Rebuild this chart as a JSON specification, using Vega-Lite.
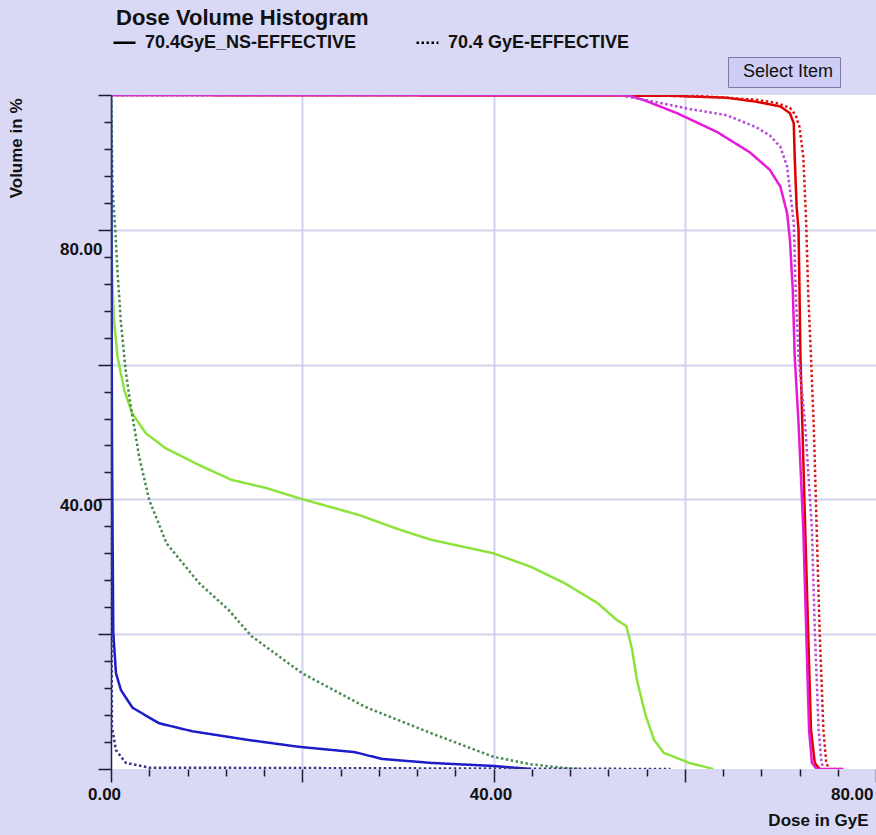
{
  "$schema": "https://vega.github.io/schema/vega-lite/v6.json",
  "width": 765,
  "height": 674,
  "autosize": {"type": "none"},
  "padding": {"left": 111, "top": 95, "right": 0, "bottom": 66},
  "background": "#d9d9f5",
  "config": {"font": "Liberation Sans", "view": {"fill": "white", "stroke": null}},
  "title": {"text": "Dose Volume Histogram", "anchor": "start", "frame": "group", "dx": 5, "dy": 25, "offset": 8, "fontSize": 22, "fontWeight": "bold", "color": "#111111", "baseline": "alphabetic"},
  "data": {"values": [
    {"series": "A-NS", "plan": "70.4GyE_NS-EFFECTIVE", "dose": 0, "volume": 100},
    {"series": "A-NS", "plan": "70.4GyE_NS-EFFECTIVE", "dose": 58, "volume": 99.9},
    {"series": "A-NS", "plan": "70.4GyE_NS-EFFECTIVE", "dose": 64.4, "volume": 99.6},
    {"series": "A-NS", "plan": "70.4GyE_NS-EFFECTIVE", "dose": 67.5, "volume": 99.0},
    {"series": "A-NS", "plan": "70.4GyE_NS-EFFECTIVE", "dose": 70, "volume": 98.3},
    {"series": "A-NS", "plan": "70.4GyE_NS-EFFECTIVE", "dose": 71, "volume": 97.3},
    {"series": "A-NS", "plan": "70.4GyE_NS-EFFECTIVE", "dose": 71.4, "volume": 95.8},
    {"series": "A-NS", "plan": "70.4GyE_NS-EFFECTIVE", "dose": 71.5, "volume": 90.8},
    {"series": "A-NS", "plan": "70.4GyE_NS-EFFECTIVE", "dose": 71.7, "volume": 83.4},
    {"series": "A-NS", "plan": "70.4GyE_NS-EFFECTIVE", "dose": 71.9, "volume": 80},
    {"series": "A-NS", "plan": "70.4GyE_NS-EFFECTIVE", "dose": 72.0, "volume": 71},
    {"series": "A-NS", "plan": "70.4GyE_NS-EFFECTIVE", "dose": 72.1, "volume": 61.2},
    {"series": "A-NS", "plan": "70.4GyE_NS-EFFECTIVE", "dose": 72.3, "volume": 51},
    {"series": "A-NS", "plan": "70.4GyE_NS-EFFECTIVE", "dose": 72.6, "volume": 35.5},
    {"series": "A-NS", "plan": "70.4GyE_NS-EFFECTIVE", "dose": 72.9, "volume": 20.6},
    {"series": "A-NS", "plan": "70.4GyE_NS-EFFECTIVE", "dose": 73.2, "volume": 5.8},
    {"series": "A-NS", "plan": "70.4GyE_NS-EFFECTIVE", "dose": 73.6, "volume": 0.9},
    {"series": "A-NS", "plan": "70.4GyE_NS-EFFECTIVE", "dose": 74.1, "volume": 0},

    {"series": "A-EFF", "plan": "70.4 GyE-EFFECTIVE", "dose": 0, "volume": 100},
    {"series": "A-EFF", "plan": "70.4 GyE-EFFECTIVE", "dose": 56, "volume": 100},
    {"series": "A-EFF", "plan": "70.4 GyE-EFFECTIVE", "dose": 62, "volume": 99.8},
    {"series": "A-EFF", "plan": "70.4 GyE-EFFECTIVE", "dose": 67.5, "volume": 99.3},
    {"series": "A-EFF", "plan": "70.4 GyE-EFFECTIVE", "dose": 69.6, "volume": 98.8},
    {"series": "A-EFF", "plan": "70.4 GyE-EFFECTIVE", "dose": 71, "volume": 98.1},
    {"series": "A-EFF", "plan": "70.4 GyE-EFFECTIVE", "dose": 71.6, "volume": 97},
    {"series": "A-EFF", "plan": "70.4 GyE-EFFECTIVE", "dose": 72, "volume": 95.3},
    {"series": "A-EFF", "plan": "70.4 GyE-EFFECTIVE", "dose": 72.4, "volume": 90.8},
    {"series": "A-EFF", "plan": "70.4 GyE-EFFECTIVE", "dose": 72.7, "volume": 81},
    {"series": "A-EFF", "plan": "70.4 GyE-EFFECTIVE", "dose": 72.9, "volume": 71},
    {"series": "A-EFF", "plan": "70.4 GyE-EFFECTIVE", "dose": 73.2, "volume": 61.2},
    {"series": "A-EFF", "plan": "70.4 GyE-EFFECTIVE", "dose": 73.5, "volume": 50.5},
    {"series": "A-EFF", "plan": "70.4 GyE-EFFECTIVE", "dose": 73.8, "volume": 35.5},
    {"series": "A-EFF", "plan": "70.4 GyE-EFFECTIVE", "dose": 74.1, "volume": 20.6},
    {"series": "A-EFF", "plan": "70.4 GyE-EFFECTIVE", "dose": 74.5, "volume": 5.8},
    {"series": "A-EFF", "plan": "70.4 GyE-EFFECTIVE", "dose": 74.8, "volume": 0.9},
    {"series": "A-EFF", "plan": "70.4 GyE-EFFECTIVE", "dose": 75.1, "volume": 0},
    {"series": "A-EFF", "plan": "70.4 GyE-EFFECTIVE", "dose": 76.6, "volume": 0},

    {"series": "B-NS", "plan": "70.4GyE_NS-EFFECTIVE", "dose": 0, "volume": 100},
    {"series": "B-NS", "plan": "70.4GyE_NS-EFFECTIVE", "dose": 54, "volume": 100},
    {"series": "B-NS", "plan": "70.4GyE_NS-EFFECTIVE", "dose": 55.8, "volume": 99.2},
    {"series": "B-NS", "plan": "70.4GyE_NS-EFFECTIVE", "dose": 59.2, "volume": 97.3},
    {"series": "B-NS", "plan": "70.4GyE_NS-EFFECTIVE", "dose": 63.4, "volume": 94.5},
    {"series": "B-NS", "plan": "70.4GyE_NS-EFFECTIVE", "dose": 66.8, "volume": 91.5},
    {"series": "B-NS", "plan": "70.4GyE_NS-EFFECTIVE", "dose": 68.9, "volume": 88.9},
    {"series": "B-NS", "plan": "70.4GyE_NS-EFFECTIVE", "dose": 70, "volume": 86.4},
    {"series": "B-NS", "plan": "70.4GyE_NS-EFFECTIVE", "dose": 70.7, "volume": 82.5},
    {"series": "B-NS", "plan": "70.4GyE_NS-EFFECTIVE", "dose": 71, "volume": 78.5},
    {"series": "B-NS", "plan": "70.4GyE_NS-EFFECTIVE", "dose": 71.3, "volume": 71},
    {"series": "B-NS", "plan": "70.4GyE_NS-EFFECTIVE", "dose": 71.5, "volume": 61.2},
    {"series": "B-NS", "plan": "70.4GyE_NS-EFFECTIVE", "dose": 71.9, "volume": 51.3},
    {"series": "B-NS", "plan": "70.4GyE_NS-EFFECTIVE", "dose": 72.4, "volume": 35.5},
    {"series": "B-NS", "plan": "70.4GyE_NS-EFFECTIVE", "dose": 72.7, "volume": 20.6},
    {"series": "B-NS", "plan": "70.4GyE_NS-EFFECTIVE", "dose": 73, "volume": 5.8},
    {"series": "B-NS", "plan": "70.4GyE_NS-EFFECTIVE", "dose": 73.3, "volume": 0.9},
    {"series": "B-NS", "plan": "70.4GyE_NS-EFFECTIVE", "dose": 73.8, "volume": 0},
    {"series": "B-NS", "plan": "70.4GyE_NS-EFFECTIVE", "dose": 76.6, "volume": 0},

    {"series": "B-EFF", "plan": "70.4 GyE-EFFECTIVE", "dose": 0, "volume": 100},
    {"series": "B-EFF", "plan": "70.4 GyE-EFFECTIVE", "dose": 53, "volume": 100},
    {"series": "B-EFF", "plan": "70.4 GyE-EFFECTIVE", "dose": 55.8, "volume": 99.3},
    {"series": "B-EFF", "plan": "70.4 GyE-EFFECTIVE", "dose": 60.2, "volume": 98},
    {"series": "B-EFF", "plan": "70.4 GyE-EFFECTIVE", "dose": 64.4, "volume": 97},
    {"series": "B-EFF", "plan": "70.4 GyE-EFFECTIVE", "dose": 67.5, "volume": 95.2},
    {"series": "B-EFF", "plan": "70.4 GyE-EFFECTIVE", "dose": 68.9, "volume": 94},
    {"series": "B-EFF", "plan": "70.4 GyE-EFFECTIVE", "dose": 70, "volume": 92.3},
    {"series": "B-EFF", "plan": "70.4 GyE-EFFECTIVE", "dose": 70.7, "volume": 89.4},
    {"series": "B-EFF", "plan": "70.4 GyE-EFFECTIVE", "dose": 71, "volume": 85.9},
    {"series": "B-EFF", "plan": "70.4 GyE-EFFECTIVE", "dose": 71.4, "volume": 81},
    {"series": "B-EFF", "plan": "70.4 GyE-EFFECTIVE", "dose": 71.6, "volume": 71},
    {"series": "B-EFF", "plan": "70.4 GyE-EFFECTIVE", "dose": 71.9, "volume": 61.2},
    {"series": "B-EFF", "plan": "70.4 GyE-EFFECTIVE", "dose": 72.6, "volume": 51},
    {"series": "B-EFF", "plan": "70.4 GyE-EFFECTIVE", "dose": 73.3, "volume": 35.5},
    {"series": "B-EFF", "plan": "70.4 GyE-EFFECTIVE", "dose": 73.6, "volume": 20.6},
    {"series": "B-EFF", "plan": "70.4 GyE-EFFECTIVE", "dose": 74, "volume": 5.8},
    {"series": "B-EFF", "plan": "70.4 GyE-EFFECTIVE", "dose": 74.3, "volume": 0.9},
    {"series": "B-EFF", "plan": "70.4 GyE-EFFECTIVE", "dose": 74.6, "volume": 0},

    {"series": "C-NS", "plan": "70.4GyE_NS-EFFECTIVE", "dose": 0, "volume": 100},
    {"series": "C-NS", "plan": "70.4GyE_NS-EFFECTIVE", "dose": 0.1, "volume": 75},
    {"series": "C-NS", "plan": "70.4GyE_NS-EFFECTIVE", "dose": 0.17, "volume": 71},
    {"series": "C-NS", "plan": "70.4GyE_NS-EFFECTIVE", "dose": 0.34, "volume": 66.2},
    {"series": "C-NS", "plan": "70.4GyE_NS-EFFECTIVE", "dose": 0.69, "volume": 61.1},
    {"series": "C-NS", "plan": "70.4GyE_NS-EFFECTIVE", "dose": 1.39, "volume": 56.2},
    {"series": "C-NS", "plan": "70.4GyE_NS-EFFECTIVE", "dose": 2.2, "volume": 52.8},
    {"series": "C-NS", "plan": "70.4GyE_NS-EFFECTIVE", "dose": 3.65, "volume": 49.8},
    {"series": "C-NS", "plan": "70.4GyE_NS-EFFECTIVE", "dose": 5.7, "volume": 47.6},
    {"series": "C-NS", "plan": "70.4GyE_NS-EFFECTIVE", "dose": 9.2, "volume": 45.1},
    {"series": "C-NS", "plan": "70.4GyE_NS-EFFECTIVE", "dose": 12.6, "volume": 42.9},
    {"series": "C-NS", "plan": "70.4GyE_NS-EFFECTIVE", "dose": 16.2, "volume": 41.7},
    {"series": "C-NS", "plan": "70.4GyE_NS-EFFECTIVE", "dose": 19.6, "volume": 40.2},
    {"series": "C-NS", "plan": "70.4GyE_NS-EFFECTIVE", "dose": 25.9, "volume": 37.7},
    {"series": "C-NS", "plan": "70.4GyE_NS-EFFECTIVE", "dose": 30, "volume": 35.6},
    {"series": "C-NS", "plan": "70.4GyE_NS-EFFECTIVE", "dose": 33.5, "volume": 34},
    {"series": "C-NS", "plan": "70.4GyE_NS-EFFECTIVE", "dose": 40, "volume": 32},
    {"series": "C-NS", "plan": "70.4GyE_NS-EFFECTIVE", "dose": 43.9, "volume": 30},
    {"series": "C-NS", "plan": "70.4GyE_NS-EFFECTIVE", "dose": 47.4, "volume": 27.6},
    {"series": "C-NS", "plan": "70.4GyE_NS-EFFECTIVE", "dose": 50.9, "volume": 24.6},
    {"series": "C-NS", "plan": "70.4GyE_NS-EFFECTIVE", "dose": 52.9, "volume": 22.1},
    {"series": "C-NS", "plan": "70.4GyE_NS-EFFECTIVE", "dose": 53.9, "volume": 21.2},
    {"series": "C-NS", "plan": "70.4GyE_NS-EFFECTIVE", "dose": 54.5, "volume": 17.7},
    {"series": "C-NS", "plan": "70.4GyE_NS-EFFECTIVE", "dose": 55, "volume": 13.2},
    {"series": "C-NS", "plan": "70.4GyE_NS-EFFECTIVE", "dose": 55.9, "volume": 8},
    {"series": "C-NS", "plan": "70.4GyE_NS-EFFECTIVE", "dose": 56.8, "volume": 4.3},
    {"series": "C-NS", "plan": "70.4GyE_NS-EFFECTIVE", "dose": 57.8, "volume": 2.4},
    {"series": "C-NS", "plan": "70.4GyE_NS-EFFECTIVE", "dose": 60.5, "volume": 0.9},
    {"series": "C-NS", "plan": "70.4GyE_NS-EFFECTIVE", "dose": 63, "volume": 0},

    {"series": "C-EFF", "plan": "70.4 GyE-EFFECTIVE", "dose": 0, "volume": 100},
    {"series": "C-EFF", "plan": "70.4 GyE-EFFECTIVE", "dose": 0.1, "volume": 92},
    {"series": "C-EFF", "plan": "70.4 GyE-EFFECTIVE", "dose": 0.17, "volume": 86},
    {"series": "C-EFF", "plan": "70.4 GyE-EFFECTIVE", "dose": 0.45, "volume": 80},
    {"series": "C-EFF", "plan": "70.4 GyE-EFFECTIVE", "dose": 0.69, "volume": 73.6},
    {"series": "C-EFF", "plan": "70.4 GyE-EFFECTIVE", "dose": 1.04, "volume": 66.2},
    {"series": "C-EFF", "plan": "70.4 GyE-EFFECTIVE", "dose": 1.56, "volume": 58.8},
    {"series": "C-EFF", "plan": "70.4 GyE-EFFECTIVE", "dose": 2.08, "volume": 53.7},
    {"series": "C-EFF", "plan": "70.4 GyE-EFFECTIVE", "dose": 2.95, "volume": 46.3},
    {"series": "C-EFF", "plan": "70.4 GyE-EFFECTIVE", "dose": 4, "volume": 39.9},
    {"series": "C-EFF", "plan": "70.4 GyE-EFFECTIVE", "dose": 5.8, "volume": 33.5},
    {"series": "C-EFF", "plan": "70.4 GyE-EFFECTIVE", "dose": 9.2, "volume": 27.6},
    {"series": "C-EFF", "plan": "70.4 GyE-EFFECTIVE", "dose": 12.3, "volume": 23.6},
    {"series": "C-EFF", "plan": "70.4 GyE-EFFECTIVE", "dose": 14.7, "volume": 19.7},
    {"series": "C-EFF", "plan": "70.4 GyE-EFFECTIVE", "dose": 20, "volume": 14.2},
    {"series": "C-EFF", "plan": "70.4 GyE-EFFECTIVE", "dose": 26.6, "volume": 9.2},
    {"series": "C-EFF", "plan": "70.4 GyE-EFFECTIVE", "dose": 33.5, "volume": 5.3},
    {"series": "C-EFF", "plan": "70.4 GyE-EFFECTIVE", "dose": 40, "volume": 1.8},
    {"series": "C-EFF", "plan": "70.4 GyE-EFFECTIVE", "dose": 43.9, "volume": 0.7},
    {"series": "C-EFF", "plan": "70.4 GyE-EFFECTIVE", "dose": 47.4, "volume": 0.15},
    {"series": "C-EFF", "plan": "70.4 GyE-EFFECTIVE", "dose": 49, "volume": 0},

    {"series": "D-NS", "plan": "70.4GyE_NS-EFFECTIVE", "dose": 0, "volume": 100},
    {"series": "D-NS", "plan": "70.4GyE_NS-EFFECTIVE", "dose": 0.05, "volume": 80},
    {"series": "D-NS", "plan": "70.4GyE_NS-EFFECTIVE", "dose": 0.1, "volume": 50},
    {"series": "D-NS", "plan": "70.4GyE_NS-EFFECTIVE", "dose": 0.17, "volume": 34},
    {"series": "D-NS", "plan": "70.4GyE_NS-EFFECTIVE", "dose": 0.24, "volume": 20.2},
    {"series": "D-NS", "plan": "70.4GyE_NS-EFFECTIVE", "dose": 0.52, "volume": 14.2},
    {"series": "D-NS", "plan": "70.4GyE_NS-EFFECTIVE", "dose": 1.04, "volume": 11.7},
    {"series": "D-NS", "plan": "70.4GyE_NS-EFFECTIVE", "dose": 2.25, "volume": 9.1},
    {"series": "D-NS", "plan": "70.4GyE_NS-EFFECTIVE", "dose": 5, "volume": 6.8},
    {"series": "D-NS", "plan": "70.4GyE_NS-EFFECTIVE", "dose": 8.5, "volume": 5.6},
    {"series": "D-NS", "plan": "70.4GyE_NS-EFFECTIVE", "dose": 14.4, "volume": 4.3},
    {"series": "D-NS", "plan": "70.4GyE_NS-EFFECTIVE", "dose": 19.6, "volume": 3.3},
    {"series": "D-NS", "plan": "70.4GyE_NS-EFFECTIVE", "dose": 25.5, "volume": 2.5},
    {"series": "D-NS", "plan": "70.4GyE_NS-EFFECTIVE", "dose": 28.3, "volume": 1.5},
    {"series": "D-NS", "plan": "70.4GyE_NS-EFFECTIVE", "dose": 33.5, "volume": 0.9},
    {"series": "D-NS", "plan": "70.4GyE_NS-EFFECTIVE", "dose": 40, "volume": 0.45},
    {"series": "D-NS", "plan": "70.4GyE_NS-EFFECTIVE", "dose": 43.9, "volume": 0},

    {"series": "D-EFF", "plan": "70.4 GyE-EFFECTIVE", "dose": 0, "volume": 100},
    {"series": "D-EFF", "plan": "70.4 GyE-EFFECTIVE", "dose": 0.03, "volume": 50},
    {"series": "D-EFF", "plan": "70.4 GyE-EFFECTIVE", "dose": 0.06, "volume": 20},
    {"series": "D-EFF", "plan": "70.4 GyE-EFFECTIVE", "dose": 0.1, "volume": 6.2},
    {"series": "D-EFF", "plan": "70.4 GyE-EFFECTIVE", "dose": 0.52, "volume": 2.8},
    {"series": "D-EFF", "plan": "70.4 GyE-EFFECTIVE", "dose": 1.56, "volume": 0.9},
    {"series": "D-EFF", "plan": "70.4 GyE-EFFECTIVE", "dose": 4, "volume": 0.2},
    {"series": "D-EFF", "plan": "70.4 GyE-EFFECTIVE", "dose": 30, "volume": 0.1},
    {"series": "D-EFF", "plan": "70.4 GyE-EFFECTIVE", "dose": 58.5, "volume": 0}
  ]},
  "mark": {"type": "line", "strokeWidth": 2.5, "clip": true},
  "encoding": {
    "x": {
      "field": "dose", "type": "quantitative",
      "scale": {"domain": [0, 80], "nice": false, "zero": false},
      "axis": {
        "values": [0, 4, 8, 12, 16, 20, 24, 28, 32, 36, 40, 44, 48, 52, 56, 60, 64, 68, 72, 76, 80],
        "title": "Dose in GyE", "titleFontSize": 17, "titleFontWeight": "bold", "titleColor": "#111111",
        "titleAlign": "right", "titleBaseline": "bottom", "titleX": 757, "titleY": 60,
        "grid": true, "gridColor": "#d2d2ef", "gridWidth": 2,
        "gridOpacity": {"condition": {"test": "datum.value > 0 && datum.value < 80 && datum.value % 20 === 0", "value": 1}, "value": 0},
        "domain": false,
        "tickColor": "#1a1a30", "tickWidth": 1.5,
        "tickSize": {"condition": {"test": "datum.value % 20 === 0", "value": 13}, "value": 7},
        "labelExpr": "datum.value % 40 === 0 ? format(datum.value, '.2f') : ''",
        "labelFontSize": 17, "labelFontWeight": "bold", "labelColor": "#111111",
        "labelPadding": 4, "labelBaseline": "top",
        "labelAlign": {"condition": {"test": "datum.value === 80", "value": "right"}, "value": "center"},
        "labelOffset": {"condition": {"test": "datum.value === 0", "value": -7}, "value": -3},
        "labelOverlap": false, "labelBound": false, "labelFlush": false
      }
    },
    "y": {
      "field": "volume", "type": "quantitative",
      "scale": {"domain": [0, 100], "nice": false},
      "axis": {
        "values": [0, 4, 8, 12, 16, 20, 24, 28, 32, 36, 40, 44, 48, 52, 56, 60, 64, 68, 72, 76, 80, 84, 88, 92, 96, 100],
        "title": "Volume in %", "titleFontSize": 17, "titleFontWeight": "bold", "titleColor": "#111111",
        "titleAngle": -90, "titleAlign": "right", "titleBaseline": "bottom", "titleX": -86, "titleY": 3,
        "grid": true, "gridColor": "#d2d2ef", "gridWidth": 2,
        "gridOpacity": {"condition": {"test": "datum.value > 0 && datum.value < 100 && datum.value % 20 === 0", "value": 1}, "value": 0},
        "domain": true, "domainColor": "#1a1a60", "domainWidth": 1.5,
        "tickColor": "#1a1a30", "tickWidth": 1.5,
        "tickSize": {"condition": {"test": "datum.value % 20 === 0", "value": 13}, "value": 7},
        "labelExpr": "datum.value === 40 || datum.value === 80 ? format(datum.value, '.2f') : ''",
        "labelFontSize": 17, "labelFontWeight": "bold", "labelColor": "#111111",
        "labelPadding": -4, "labelBaseline": "middle",
        "labelOffset": {"condition": {"test": "datum.value === 80", "value": 20}, "value": 6},
        "labelOverlap": false, "labelBound": false, "labelFlush": false
      }
    },
    "color": {
      "field": "series", "type": "nominal",
      "scale": {
        "domain": ["D-EFF", "D-NS", "C-EFF", "C-NS", "B-EFF", "A-EFF", "A-NS", "B-NS"],
        "range": ["#343488", "#1c1cc8", "#4a8a50", "#8de33c", "#b848d8", "#d81818", "#e00000", "#e818d8"]
      },
      "legend": null
    },
    "strokeDash": {
      "field": "plan", "type": "nominal",
      "scale": {"domain": ["70.4GyE_NS-EFFECTIVE", "70.4 GyE-EFFECTIVE"], "range": [[1, 0], [2.5, 2.5]]},
      "legend": {
        "orient": "none", "legendX": 1, "legendY": -65, "title": null, "direction": "horizontal",
        "padding": 0, "columnPadding": 54, "symbolType": "stroke", "symbolSize": 484,
        "symbolStrokeWidth": 2.5, "symbolStrokeColor": "#000000",
        "labelFontSize": 18, "labelFontWeight": "bold", "labelColor": "#111111", "labelOffset": 8, "labelLimit": 400
      }
    },
    "opacity": {
      "datum": "Select Item", "type": "nominal",
      "scale": {"type": "ordinal", "range": [1]},
      "legend": {
        "orient": "none", "legendX": 617, "legendY": -38, "title": null, "padding": 6,
        "fillColor": "#cdcdf5", "strokeColor": "#7a7aa8",
        "symbolSize": 1, "symbolOpacity": 0, "symbolStrokeWidth": 0, "labelOffset": -9,
        "labelExpr": "datum.label + '\u00a0\u00a0\u00a0\u00a0\u00a0'",
        "labelFontSize": 18, "labelColor": "#111111"
      }
    }
  }
}
